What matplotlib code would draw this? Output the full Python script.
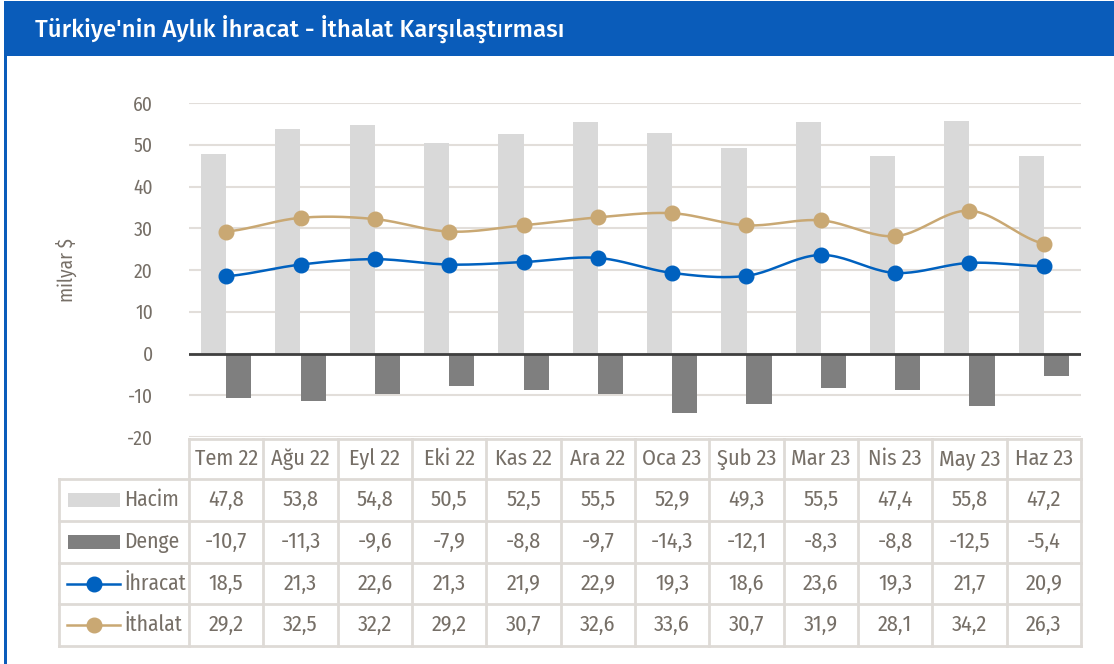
import numpy as np
import matplotlib
matplotlib.use("Agg")
from matplotlib import pyplot as plt
from matplotlib.patches import Rectangle
from matplotlib.lines import Line2D

plt.rcParams['font.family'] = ['Fira Sans Condensed', 'DejaVu Sans']
plt.rcParams['font.stretch'] = 'condensed'

months = ["Tem 22", "Ağu 22", "Eyl 22", "Eki 22", "Kas 22", "Ara 22",
          "Oca 23", "Şub 23", "Mar 23", "Nis 23", "May 23", "Haz 23"]
hacim = [47.8, 53.8, 54.8, 50.5, 52.5, 55.5, 52.9, 49.3, 55.5, 47.4, 55.8, 47.2]
denge = [-10.7, -11.3, -9.6, -7.9, -8.8, -9.7, -14.3, -12.1, -8.3, -8.8, -12.5, -5.4]
ihracat = [18.5, 21.3, 22.6, 21.3, 21.9, 22.9, 19.3, 18.6, 23.6, 19.3, 21.7, 20.9]
ithalat = [29.2, 32.5, 32.2, 29.2, 30.7, 32.6, 33.6, 30.7, 31.9, 28.1, 34.2, 26.3]
y_ticks = [60, 50, 40, 30, 20, 10, 0, -10, -20]

BLUE = '#0A5CBA'
LINE_BLUE = '#0061BF'
TAN = '#C9A873'
LIGHT = '#D9D9D9'
DARK = '#7F7F7F'
TXT = '#766F67'
GRID = '#E2DEDA'

W, H = 1114, 664
fig = plt.figure(figsize=(W / 100, H / 100), dpi=100)


def smooth(y, n=24):
    # catmull-rom, similar to excel's smoothed line
    p = np.asarray(y, float)
    x = np.arange(len(p), dtype=float)
    xs, ys = [], []
    for i in range(len(p) - 1):
        p0 = p[i - 1] if i > 0 else p[i]
        p3 = p[i + 2] if i + 2 < len(p) else p[i + 1]
        p1, p2 = p[i], p[i + 1]
        t = np.linspace(0, 1, n)
        yy = 0.5 * ((2 * p1) + (-p0 + p2) * t + (2 * p0 - 5 * p1 + 4 * p2 - p3) * t ** 2
                    + (-p0 + 3 * p1 - 3 * p2 + p3) * t ** 3)
        xs.append(x[i] + t)
        ys.append(yy)
    return np.concatenate(xs), np.concatenate(ys)


# background / frame in pixel coordinates
bg = fig.add_axes([0, 0, 1, 1])
bg.set_xlim(0, W)
bg.set_ylim(H, 0)
bg.axis('off')
bg.add_patch(Rectangle((4, 1), W - 4, 55, color=BLUE, lw=0))
bg.add_patch(Rectangle((4, 1), 2.5, H, color=BLUE, lw=0))
bg.text(35, 29, "Türkiye'nin Aylık İhracat - İthalat Karşılaştırması", color='white',
        fontsize=17.3, va='center', ha='left', fontweight='medium',
        family=['Fira Sans', 'DejaVu Sans'], fontstretch='normal')

# main chart
left, right, top, bottom = 189, 1081, 103, 437
ax = fig.add_axes([left / W, 1 - bottom / H, (right - left) / W, (bottom - top) / H])
n = len(months)
x = np.arange(n)
ax.set_xlim(-0.5, n - 0.5)
ax.set_ylim(-20, 60)
ax.set_yticks(y_ticks)
ax.set_yticklabels([str(v) for v in y_ticks])
ax.tick_params(axis='y', length=0, labelsize=14, labelcolor=TXT, pad=26)
ax.set_xticks([])
for s in ax.spines.values():
    s.set_visible(False)
ax.grid(axis='y', color=GRID, lw=1.5)
ax.set_axisbelow(True)
ax.axhline(0, color='#3F3F3F', lw=2, zorder=3)

bw = 0.34
ax.bar(x - bw / 2, hacim, width=bw, color=LIGHT, zorder=2)
ax.bar(x + bw / 2, denge, width=bw, color=DARK, zorder=2)

sx, sy = smooth(ihracat)
ax.plot(sx, sy, color=LINE_BLUE, lw=1.8, zorder=4)
ax.plot(x, ihracat, 'o', color=LINE_BLUE, ms=10.5, zorder=5)
sx, sy = smooth(ithalat)
ax.plot(sx, sy, color=TAN, lw=1.8, zorder=4)
ax.plot(x, ithalat, 'o', color=TAN, ms=10.5, zorder=5)

fig.text(66 / W, 1 - 270 / H, "milyar $", rotation=90, color=TXT, fontsize=14,
         ha='center', va='center')

# data table
tl = 59
row_edges = [439, 479, 521, 563, 604, 646]
colw = (right - left) / n
bc = '#DEDAD6'
for i in range(n + 1):
    xx = left + i * colw
    bg.plot([xx, xx], [row_edges[0], row_edges[-1]], color=bc, lw=2)
bg.plot([tl, tl], [row_edges[1], row_edges[-1]], color=bc, lw=2)
bg.plot([left, right], [row_edges[0]] * 2, color=bc, lw=2)
for yy in row_edges[1:]:
    bg.plot([tl, right], [yy, yy], color=bc, lw=2)

rows = [hacim, denge, ihracat, ithalat]
names = ["Hacim", "Denge", "İhracat", "İthalat"]
fs = 16


def fmt(v):
    return f"{v:.1f}".replace('.', ',')


for i, m in enumerate(months):
    cx = left + (i + 0.5) * colw
    bg.text(cx, (row_edges[0] + row_edges[1]) / 2, m, ha='center', va='center',
            color=TXT, fontsize=fs)
    for r, vals in enumerate(rows):
        cy = (row_edges[r + 1] + row_edges[r + 2]) / 2
        bg.text(cx, cy, fmt(vals[i]), ha='center', va='center', color=TXT, fontsize=fs)

for r, name in enumerate(names):
    cy = (row_edges[r + 1] + row_edges[r + 2]) / 2
    bg.text(124, cy, name, ha='left', va='center', color=TXT, fontsize=15.5)
    if r < 2:
        bg.add_patch(Rectangle((68, cy - 7), 52, 14, color=[LIGHT, DARK][r], lw=0))
    else:
        c = [LINE_BLUE, TAN][r - 2]
        bg.add_line(Line2D([67, 120], [cy, cy], color=c, lw=1.8))
        bg.plot([93.5], [cy], 'o', color=c, ms=10.5)

fig.savefig("out.png", dpi=100)
